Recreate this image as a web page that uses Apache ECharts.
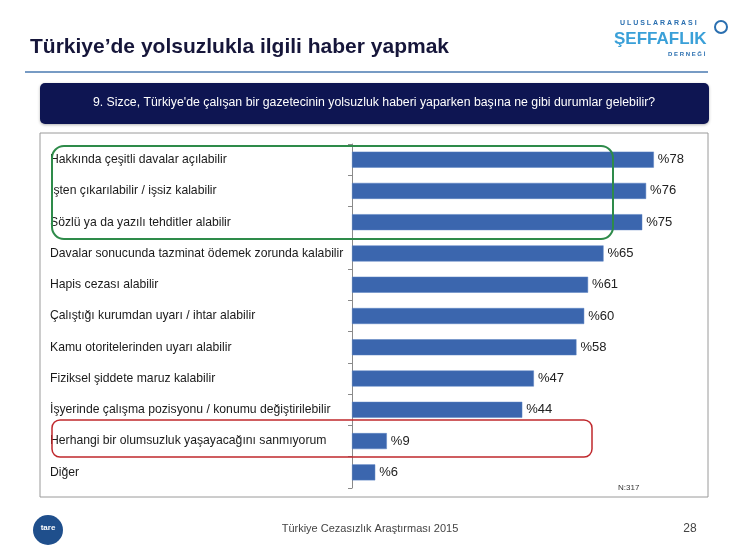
<!DOCTYPE html>
<html><head><meta charset="utf-8">
<script src="https://cdn.jsdelivr.net/npm/echarts@6/dist/echarts.min.js"></script>
<style>html,body{margin:0;padding:0;background:#fff}#c{width:740px;height:555px}</style>
</head><body><div id="c"></div>
<script>
const categories = [
  "Hakkında çeşitli davalar açılabilir",
  "İşten çıkarılabilir / işsiz kalabilir",
  "Sözlü ya da yazılı tehditler alabilir",
  "Davalar sonucunda tazminat ödemek zorunda kalabilir",
  "Hapis cezası alabilir",
  "Çalıştığı kurumdan uyarı / ihtar alabilir",
  "Kamu otoritelerinden uyarı alabilir",
  "Fiziksel şiddete maruz kalabilir",
  "İşyerinde çalışma pozisyonu / konumu değiştirilebilir",
  "Herhangi bir olumsuzluk yaşayacağını sanmıyorum",
  "Diğer"
];
const values = [78, 76, 75, 65, 61, 60, 58, 47, 44, 9, 6];
const titleText = "Türkiye’de yolsuzlukla ilgili haber yapmak";
const questionText = "9. Sizce, Türkiye'de çalışan bir gazetecinin yolsuzluk haberi yaparken başına ne gibi durumlar gelebilir?";
const footerText = "Türkiye Cezasızlık Araştırması 2015";
const pageNo = "28";
const nText = "N:317";

const FF = "Arial, 'Liberation Sans', Helvetica, sans-serif";
const chart = echarts.init(document.getElementById('c'));
chart.setOption({
  backgroundColor: '#fff',
  animation: false,
  grid: { left: 352, top: 144, width: 387, height: 344 },
  xAxis: { type: 'value', min: 0, max: 100, show: false },
  yAxis: {
    type: 'category', data: categories, inverse: true,
    axisLine: { show: true, lineStyle: { color: '#8a8a8a', width: 1 } },
    axisTick: { show: true, length: 4, lineStyle: { color: '#8a8a8a' } },
    axisLabel: { align: 'left', margin: 302, color: '#1a1a1a', fontSize: 12.2, fontFamily: FF }
  },
  series: [{
    type: 'bar', data: values, barWidth: 16,
    itemStyle: { color: '#3b66ae', borderColor: '#5b82c2', borderWidth: 0.5 },
    label: { show: true, position: 'right', distance: 4, formatter: '%{c}', color: '#222', fontSize: 13, fontFamily: FF }
  }],
  graphic: [
    { type: 'text', left: 30, top: 37, style: { text: titleText, font: 'bold 21px ' + FF, fill: '#16163a' } },
    { type: 'line', shape: { x1: 25, y1: 72, x2: 708, y2: 72 }, style: { stroke: '#4a7ab0', lineWidth: 1.5 } },
    { type: 'rect', shape: { x: 40, y: 83, width: 669, height: 41, r: 5 }, style: { fill: '#0e1552', shadowBlur: 3, shadowColor: 'rgba(0,0,0,0.3)', shadowOffsetY: 1 } },
    { type: 'text', x: 374, y: 103, style: { text: questionText, font: '12.3px ' + FF, fill: '#fff', textAlign: 'center', textVerticalAlign: 'middle' } },
    { type: 'rect', shape: { x: 40, y: 133, width: 668, height: 364 }, style: { fill: 'none', stroke: '#9a9a9a', lineWidth: 1 }, z: -1 },
    { type: 'rect', shape: { x: 52, y: 146, width: 561, height: 93, r: 12 }, style: { fill: 'none', stroke: '#2e8b4a', lineWidth: 2 }, z: 10 },
    { type: 'rect', shape: { x: 52, y: 420, width: 540, height: 37, r: 8 }, style: { fill: 'none', stroke: '#c0282d', lineWidth: 1.5 }, z: 10 },
    { type: 'text', x: 618, y: 484, style: { text: nText, font: '8px ' + FF, fill: '#333' } },
    // logo top right
    { type: 'text', x: 620, y: 20, style: { text: 'U L U S L A R A R A S I', font: 'bold 7px ' + FF, fill: '#2a6fb0' } },
    { type: 'text', x: 614, y: 31, style: { text: 'ŞEFFAFLIK', font: 'bold 17px ' + FF, fill: '#3aa0d8' } },
    { type: 'text', x: 668, y: 51, style: { text: 'D E R N E Ğ İ', font: 'bold 6px ' + FF, fill: '#2a6fb0' } },
    { type: 'circle', shape: { cx: 721, cy: 27, r: 6 }, style: { fill: '#fff', stroke: '#2a6fb0', lineWidth: 2 } },
    // footer
    { type: 'circle', shape: { cx: 48, cy: 530, r: 15 }, style: { fill: '#1f4f8c' } },
    { type: 'text', x: 48, y: 528, style: { text: 'tare', font: 'bold 8px ' + FF, fill: '#fff', textAlign: 'center', textVerticalAlign: 'middle' } },
    { type: 'text', x: 370, y: 529, style: { text: footerText, font: '11px ' + FF, fill: '#444', textAlign: 'center', textVerticalAlign: 'middle' } },
    { type: 'text', x: 690, y: 529, style: { text: pageNo, font: '12px ' + FF, fill: '#444', textAlign: 'center', textVerticalAlign: 'middle' } }
  ]
});
</script></body></html>
